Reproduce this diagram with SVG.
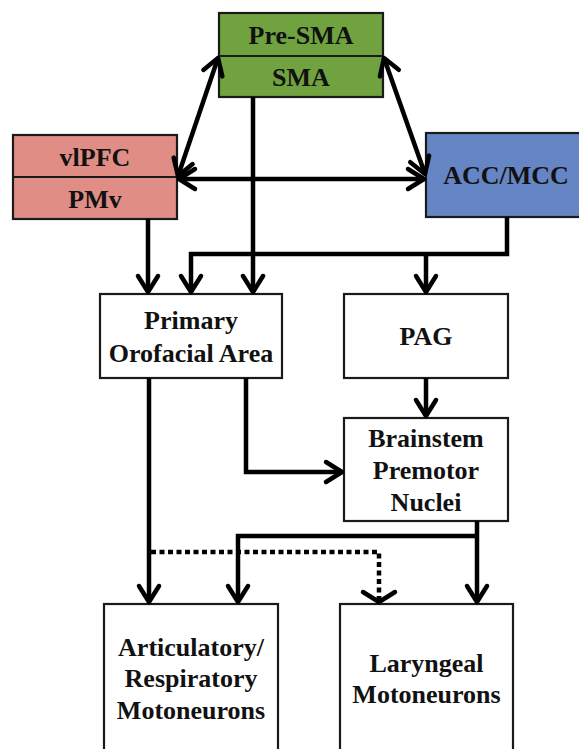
<svg xmlns="http://www.w3.org/2000/svg" width="579" height="749" viewBox="0 0 579 749">
<defs>
<style>
.box{stroke:#1a1a1a;stroke-width:2.2}
.t{font-family:"Liberation Serif","Times New Roman",serif;font-weight:bold;font-size:26px;fill:#111;text-anchor:middle}
.c{fill:none;stroke:#000;stroke-width:4.5;stroke-linejoin:miter}
.d{fill:none;stroke:#000;stroke-width:4.5;stroke-dasharray:5 3.5}
</style>
<marker id="ah" viewBox="-20 -14 24 28" markerWidth="24" markerHeight="28" refX="0" refY="0" orient="auto-start-reverse" markerUnits="userSpaceOnUse">
<path d="M-16,-10 L0,0 L-16,10" fill="none" stroke="#000" stroke-width="4.5" stroke-linecap="round" stroke-linejoin="round"/>
</marker>
</defs>
<rect width="579" height="749" fill="#fff"/>

<g id="presma-sma">
<rect class="box" x="219" y="13" width="164" height="84" fill="#70A23F"/>
<line class="box" x1="219" y1="56" x2="383" y2="56"/>
<text class="t" x="301" y="44">Pre-SMA</text>
<text class="t" x="301" y="86">SMA</text>
</g>

<g id="vlpfc-pmv">
<rect class="box" x="13" y="135" width="164" height="84" fill="#E08D86"/>
<line class="box" x1="13" y1="177" x2="177" y2="177"/>
<text class="t" x="95" y="166">vlPFC</text>
<text class="t" x="95" y="208">PMv</text>
</g>

<g id="acc-mcc">
<rect class="box" x="426" y="133" width="160" height="84" fill="#6585C5"/>
<text class="t" x="506" y="184">ACC/MCC</text>
</g>

<g id="primary">
<rect class="box" x="100" y="294" width="182" height="84" fill="#fff"/>
<text class="t" x="191" y="329">Primary</text>
<text class="t" x="191" y="362">Orofacial Area</text>
</g>

<g id="pag">
<rect class="box" x="344" y="294" width="164" height="84" fill="#fff"/>
<text class="t" x="426" y="345">PAG</text>
</g>

<g id="brainstem">
<rect class="box" x="344" y="418" width="164" height="103" fill="#fff"/>
<text class="t" x="426" y="447">Brainstem</text>
<text class="t" x="426" y="479">Premotor</text>
<text class="t" x="426" y="511">Nuclei</text>
</g>

<g id="articulatory">
<rect class="box" x="104" y="604" width="174" height="160" fill="#fff"/>
<text class="t" x="191" y="656">Articulatory/</text>
<text class="t" x="191" y="687">Respiratory</text>
<text class="t" x="191" y="719">Motoneurons</text>
</g>

<g id="laryngeal">
<rect class="box" x="340" y="604" width="173" height="160" fill="#fff"/>
<text class="t" x="426.5" y="672">Laryngeal</text>
<text class="t" x="426.5" y="703">Motoneurons</text>
</g>

<g id="connectors">
<line class="c" x1="178" y1="176" x2="218" y2="58" marker-start="url(#ah)" marker-end="url(#ah)"/>
<line class="c" x1="384" y1="58" x2="425" y2="174" marker-start="url(#ah)" marker-end="url(#ah)"/>
<line class="c" x1="179" y1="179" x2="424" y2="179" marker-start="url(#ah)" marker-end="url(#ah)"/>
<line class="c" x1="148" y1="219" x2="148" y2="292" marker-end="url(#ah)"/>
<line class="c" x1="253" y1="97" x2="253" y2="292" marker-end="url(#ah)"/>
<polyline class="c" points="507,217 507,254 191,254 191,292" marker-end="url(#ah)"/>
<line class="c" x1="426" y1="254" x2="426" y2="292" marker-end="url(#ah)"/>
<line class="c" x1="426" y1="378" x2="426" y2="416" marker-end="url(#ah)"/>
<polyline class="c" points="246,378 246,472 342,472" marker-end="url(#ah)"/>
<line class="c" x1="149" y1="378" x2="149" y2="602" marker-end="url(#ah)"/>
<line class="c" x1="477" y1="521" x2="477" y2="602" marker-end="url(#ah)"/>
<polyline class="c" points="477,536 238,536 238,602" marker-end="url(#ah)"/>
<polyline class="d" points="151,552 379,552 379,598"/>
<path d="M379,596 L379,602" class="c"/>
<path d="M363,592 L379,602 L395,592" fill="none" stroke="#000" stroke-width="4.5" stroke-linecap="round" stroke-linejoin="round"/>
</g>
</svg>
